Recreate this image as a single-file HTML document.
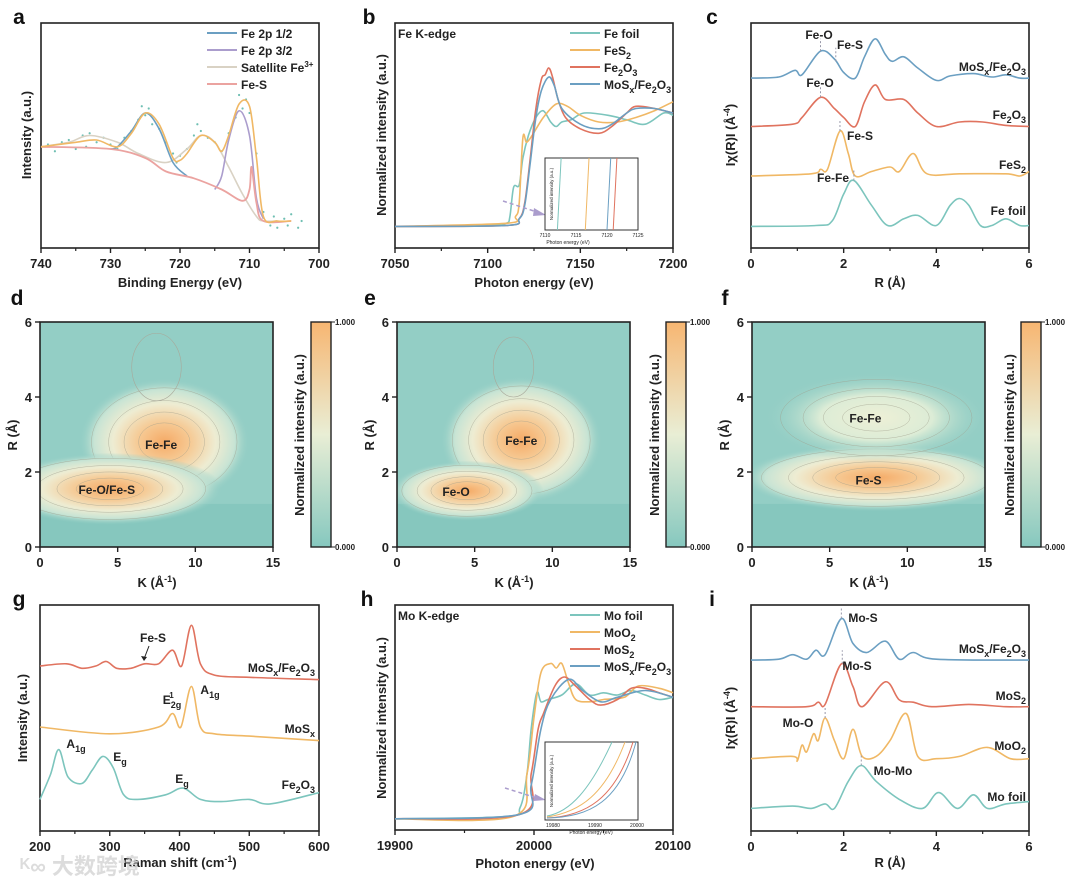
<!DOCTYPE html>
<html><head><meta charset="utf-8">
<style>
html,body{margin:0;padding:0;background:#fff;}
svg{display:block;font-family:"Liberation Sans","Noto Sans CJK SC",sans-serif;}
.t{font-weight:bold;font-size:13px;fill:#222;}
.lt{font-weight:bold;font-size:12px;fill:#222;}
.pl{font-weight:bold;font-size:21px;fill:#111;}
</style></head>
<body>
<svg id="fig" width="1080" height="883" viewBox="0 0 1080 883">
<defs>
<radialGradient id="hot"><stop offset="0" stop-color="#f5aa66"/><stop offset="0.3" stop-color="#f6c993"/><stop offset="0.6" stop-color="#eeecd2"/><stop offset="0.82" stop-color="#c8e4d4"/><stop offset="1" stop-color="#92cdc4" stop-opacity="0"/></radialGradient>
<radialGradient id="warm"><stop offset="0" stop-color="#eef0d6"/><stop offset="0.5" stop-color="#dcecd6"/><stop offset="1" stop-color="#92cdc4" stop-opacity="0"/></radialGradient>
<linearGradient id="cbar" x1="0" y1="1" x2="0" y2="0"><stop offset="0" stop-color="#86c8bf"/><stop offset="0.5" stop-color="#e9eed5"/><stop offset="1" stop-color="#f7b672"/></linearGradient>
</defs>
</svg>
<script>
// ---------- DATA ----------
const aEnvX=[740,735,732,729,727,725,723,721,720,719,717,715,714,713,711.5,710,709,708,706,704];
const aEnvY=[0.45,0.47,0.48,0.45,0.51,0.60,0.55,0.40,0.39,0.42,0.50,0.47,0.43,0.50,0.64,0.63,0.40,0.14,0.12,0.12];
const aBgX=[740,730,725,722,718,714,711,710,709.7,709,708,704];
const aBgY=[0.45,0.44,0.40,0.34,0.31,0.26,0.21,0.26,0.36,0.20,0.12,0.12];
const aP1X=[730,729,727,725,723,721,719];
const aP1Y=[0.44,0.45,0.52,0.60,0.53,0.38,0.32];
const aP3X=[715,714,713,711.5,710,709,708];
const aP3Y=[0.26,0.32,0.48,0.61,0.50,0.22,0.13];
const aSatX=[740,736,733,729,726,722,719,717,715,713,711,709,708,706];
const aSatY=[0.45,0.47,0.50,0.47,0.42,0.38,0.44,0.50,0.47,0.36,0.24,0.14,0.12,0.12];
const aDotX=[739,738,737,736,735,734,733.5,733,732,731,730,729,728,727,726,725.5,725,724.5,724,723,722,721,720.5,720,719,718,717.5,717,716,715,714,713,712,711.5,711,710.5,710,709,708,707,706.5,706,705,704.5,704,703,702.5];
const aDotY=[0.46,0.43,0.47,0.48,0.44,0.50,0.45,0.51,0.47,0.49,0.46,0.44,0.49,0.52,0.57,0.63,0.59,0.62,0.55,0.53,0.47,0.42,0.38,0.41,0.44,0.50,0.55,0.52,0.49,0.47,0.43,0.51,0.58,0.68,0.62,0.66,0.60,0.42,0.16,0.10,0.14,0.09,0.13,0.10,0.15,0.09,0.12];
const bFoilX=[7050,7100,7110,7112,7114,7117,7119,7122,7126,7130,7134,7137,7140,7145,7152,7165,7175,7185,7195,7200];
const bFoilY=[0.096,0.10,0.11,0.14,0.27,0.28,0.40,0.50,0.58,0.61,0.56,0.54,0.56,0.57,0.60,0.59,0.57,0.55,0.60,0.59];
const bFes2X=[7050,7110,7115,7117,7119,7121,7124,7130,7137,7143,7150,7160,7170,7180,7190,7200];
const bFes2Y=[0.096,0.11,0.14,0.20,0.49,0.47,0.50,0.58,0.64,0.63,0.59,0.56,0.56,0.58,0.61,0.65];
const bFe2o3X=[7050,7110,7117,7120,7123,7126,7129,7131,7133,7135,7138,7142,7150,7160,7167,7175,7180,7190,7200];
const bFe2o3Y=[0.096,0.10,0.13,0.20,0.40,0.62,0.75,0.77,0.80,0.76,0.66,0.58,0.53,0.51,0.54,0.60,0.63,0.62,0.60];
const bMixX=[7050,7110,7117,7120,7123,7126,7129,7133,7136,7140,7150,7160,7167,7175,7180,7190,7200];
const bMixY=[0.096,0.10,0.13,0.19,0.38,0.58,0.70,0.76,0.72,0.62,0.55,0.53,0.55,0.60,0.62,0.62,0.60];
const bInsetE=[7112,7116.5,7120,7121];
const cMixX=[0,0.6,0.95,1.1,1.5,1.8,2.0,2.25,2.45,2.68,2.9,3.05,3.3,3.6,4.0,4.3,4.8,5.2,5.5,5.8,6];
const cMixY=[0.755,0.76,0.79,0.77,0.875,0.84,0.78,0.755,0.85,0.93,0.86,0.83,0.85,0.80,0.745,0.765,0.775,0.76,0.77,0.755,0.755];
const cFe2o3X=[0,0.9,1.1,1.5,1.8,2.0,2.25,2.45,2.68,2.9,3.3,3.6,4.0,4.5,5.0,5.5,6];
const cFe2o3Y=[0.54,0.55,0.58,0.67,0.62,0.58,0.54,0.65,0.725,0.66,0.66,0.60,0.54,0.56,0.56,0.545,0.54];
const cFes2X=[0,1.3,1.5,1.65,1.92,2.1,2.25,2.6,3.0,3.2,3.5,3.8,4.5,5.5,5.8,6];
const cFes2Y=[0.32,0.33,0.35,0.35,0.52,0.42,0.32,0.34,0.36,0.34,0.42,0.33,0.33,0.33,0.32,0.34];
const cFoilX=[0,1.4,1.75,2.0,2.22,2.6,2.95,3.3,3.6,4.0,4.3,4.5,4.7,4.95,5.2,5.5,5.8,6];
const cFoilY=[0.096,0.10,0.12,0.24,0.30,0.19,0.10,0.13,0.145,0.10,0.19,0.22,0.19,0.10,0.10,0.13,0.10,0.10];
const dK=[8,4.5,7.5], dR=[2.8,1.55,4.8], dRk=[3.8,5.0,1.1], dRr=[0.85,0.48,0.45], dLev=[1,1,2];
const eK=[8,4.5,7.5], eR=[2.85,1.5,4.8], eRk=[3.6,3.4,0.9], eRr=[0.85,0.4,0.4], eLev=[1,1,2];
const fK=[8,8], fR=[1.85,3.45], fRk=[6.0,5.0], fRr=[0.45,0.6], fLev=[1,0];
const gMixX=[200,238,260,280,295,310,330,350,370,390,403,417,430,450,500,600];
const gMixY=[0.73,0.74,0.72,0.73,0.75,0.72,0.72,0.74,0.74,0.80,0.73,0.91,0.74,0.69,0.68,0.67];
const gMosX=[200,300,370,390,402,417,430,450,500,600];
const gMosY=[0.46,0.43,0.46,0.52,0.46,0.64,0.46,0.43,0.42,0.40];
const gFeX=[200,215,227,240,260,275,290,305,320,340,380,405,430,460,500,530,600];
const gFeY=[0.14,0.25,0.36,0.24,0.21,0.27,0.33,0.28,0.16,0.14,0.16,0.19,0.14,0.13,0.14,0.12,0.17];
const hFoilX=[19900,19980,19990,19995,19998,20002,20005,20010,20020,20030,20040,20050,20060,20070,20080,20090,20100];
const hFoilY=[0.05,0.06,0.10,0.25,0.45,0.61,0.57,0.58,0.60,0.65,0.60,0.61,0.60,0.62,0.60,0.58,0.59];
const hMoo2X=[19900,19985,19995,20000,20005,20012,20016,20020,20025,20030,20040,20050,20065,20075,20090,20100];
const hMoo2Y=[0.05,0.06,0.25,0.50,0.70,0.74,0.72,0.74,0.65,0.58,0.57,0.58,0.59,0.64,0.63,0.61];
const hMos2X=[19900,19990,19998,20003,20007,20015,20022,20030,20040,20048,20060,20070,20080,20090,20100];
const hMos2Y=[0.05,0.07,0.25,0.45,0.52,0.64,0.68,0.64,0.58,0.555,0.58,0.63,0.63,0.61,0.59];
const hMixX=[19900,19990,19998,20005,20012,20025,20035,20048,20060,20080,20100];
const hMixY=[0.05,0.07,0.20,0.45,0.58,0.67,0.62,0.57,0.59,0.62,0.59];
const iMixX=[0,0.6,0.9,1.2,1.4,1.6,1.95,2.2,2.5,2.9,3.2,3.5,4,6];
const iMixY=[0.756,0.76,0.78,0.76,0.80,0.78,0.94,0.83,0.79,0.84,0.76,0.79,0.76,0.756];
const iMos2X=[0,1.2,1.45,1.6,1.95,2.2,2.4,2.9,3.2,3.5,3.9,4.7,5.5,6];
const iMos2Y=[0.55,0.55,0.57,0.56,0.74,0.64,0.55,0.66,0.58,0.57,0.55,0.56,0.55,0.55];
const iMoo2X=[0,0.9,1.0,1.1,1.2,1.35,1.45,1.6,1.8,2.0,2.2,2.4,2.7,3.0,3.35,3.6,4.0,4.5,5.1,5.6,6];
const iMoo2Y=[0.32,0.33,0.31,0.38,0.35,0.43,0.40,0.50,0.40,0.32,0.45,0.33,0.33,0.40,0.52,0.33,0.32,0.33,0.37,0.32,0.32];
const iFoilX=[0,0.9,1.3,1.6,1.8,2.1,2.38,2.7,3.2,3.7,4.05,4.45,4.8,5.1,5.5,6];
const iFoilY=[0.10,0.11,0.10,0.12,0.10,0.22,0.29,0.22,0.14,0.10,0.17,0.10,0.16,0.10,0.12,0.13];

// ---------- HELPERS ----------
const NS='http://www.w3.org/2000/svg';
const fig=document.getElementById('fig');
function el(tag,attrs,parent){const e=document.createElementNS(NS,tag);for(const k in attrs)e.setAttribute(k,attrs[k]);(parent||fig).appendChild(e);return e;}
function txt(x,y,s,cls,parent,anchor,rot){const e=el('text',{x:x,y:y,class:cls||'t','text-anchor':anchor||'middle'},parent);if(rot)e.setAttribute('transform','rotate(-90 '+x+' '+y+')');e.innerHTML=s;return e;}
function axes(px,py,w,h,x0,x1,y0,y1){return {sx:v=>px+(v-x0)/(x1-x0)*w,sy:v=>py+h-(v-y0)/(y1-y0)*h,px,py,w,h};}
function smooth(xs,ys,A){const p=xs.map((x,i)=>[A.sx(x),A.sy(ys[i])]);let d='M'+p[0][0].toFixed(1)+','+p[0][1].toFixed(1);
 for(let i=0;i<p.length-1;i++){const p0=p[i-1]||p[i],p1=p[i],p2=p[i+1],p3=p[i+2]||p2;
 const c1=[p1[0]+(p2[0]-p0[0])/6,p1[1]+(p2[1]-p0[1])/6],c2=[p2[0]-(p3[0]-p1[0])/6,p2[1]-(p3[1]-p1[1])/6];
 d+='C'+c1[0].toFixed(1)+','+c1[1].toFixed(1)+' '+c2[0].toFixed(1)+','+c2[1].toFixed(1)+' '+p2[0].toFixed(1)+','+p2[1].toFixed(1);}return d;}
function line(g,xs,ys,A,color,w){return el('path',{d:smooth(xs,ys,A),fill:'none',stroke:color,'stroke-width':w||1.6,'stroke-linejoin':'round'},g);}
function frame(g,A,ticks,minor,labels){
 el('rect',{x:A.px,y:A.py,width:A.w,height:A.h,fill:'none',stroke:'#222','stroke-width':1.6},g);
 const b=A.py+A.h;
 ticks.forEach((t,i)=>{el('line',{x1:A.sx(t),y1:b,x2:A.sx(t),y2:b+5,stroke:'#222','stroke-width':1.4},g);txt(A.sx(t),b+20,labels[i],'t',g);});
 minor.forEach(t=>el('line',{x1:A.sx(t),y1:b,x2:A.sx(t),y2:b+3,stroke:'#222','stroke-width':1.2},g));
}
function legend(g,x,y,items){items.forEach((it,i)=>{const yy=y+i*17;el('line',{x1:x,y1:yy,x2:x+30,y2:yy,stroke:it[0],'stroke-width':2},g);txt(x+34,yy+5,it[1],'lt',g,'start');});}
const C={teal:'#7cc5bd',orange:'#f0b865',red:'#e0735f',blue:'#6b9fc2',purple:'#ab9dcd',beige:'#d9d2c4',pink:'#eba3a0',dot:'#6fbfb3'};

// ---------- PANEL A ----------
let g=el('g',{});


let A=axes(41,23,278,225,740,700,0,1);
txt(19,24,'a','pl',g);
frame(g,A,[740,730,720,710,700],[735,725,715,705],['740','730','720','710','700']);
txt(180,287,'Binding Energy (eV)','t',g);
txt(31,135,'Intensity (a.u.)','t',g,'middle',true);
aDotX.forEach((x,i)=>{const c=el('circle',{cx:A.sx(x),cy:A.sy(aDotY[i]),r:1.1,fill:C.dot},g);
 
 });
line(g,aSatX,aSatY,A,C.beige,1.6);
line(g,aP1X,aP1Y,A,C.blue,1.6);
line(g,aP3X,aP3Y,A,C.purple,1.6);
line(g,aBgX,aBgY,A,C.pink,1.8);
line(g,aEnvX,aEnvY,A,C.orange,1.6);
let lg=el('g',{},g);


legend(lg,207,33,[[C.blue,'Fe 2p 1/2'],[C.purple,'Fe 2p 3/2'],[C.beige,'Satellite Fe<tspan dy="-5" font-size="8">3+</tspan>'],[C.pink,'Fe-S']]);

// ---------- PANEL B ----------
g=el('g',{});


A=axes(395,23,278,225,7050,7200,0,1);
txt(369,24,'b','pl',g);
frame(g,A,[7050,7100,7150,7200],[7075,7125,7175],['7050','7100','7150','7200']);
txt(534,287,'Photon energy (eV)','t',g);
txt(386,135,'Normalized intensity (a.u.)','t',g,'middle',true);
txt(398,38,'Fe K-edge','lt',g,'start');
line(g,bFoilX,bFoilY,A,C.teal);
line(g,bFes2X,bFes2Y,A,C.orange);
line(g,bFe2o3X,bFe2o3Y,A,C.red);
line(g,bMixX,bMixY,A,C.blue);
lg=el('g',{},g);


legend(lg,570,33,[[C.teal,'Fe foil'],[C.orange,'FeS<tspan dy="4" font-size="9">2</tspan>'],[C.red,'Fe<tspan dy="4" font-size="9">2</tspan><tspan dy="-4">O</tspan><tspan dy="4" font-size="9">3</tspan>'],[C.blue,'MoS<tspan dy="4" font-size="9">x</tspan><tspan dy="-4">/Fe</tspan><tspan dy="4" font-size="9">2</tspan><tspan dy="-4">O</tspan><tspan dy="4" font-size="9">3</tspan>']]);
el('path',{d:'M503,201 L540,213',stroke:C.purple,'stroke-width':1.5,'stroke-dasharray':'4,3',fill:'none'},g);
el('path',{d:'M534,208 L546,215 L533,216 Z',fill:C.purple},g);
let ins=el('g',{},g);


let IA=axes(545,158,93,72,7110,7125,0,1);
el('rect',{x:545,y:158,width:93,height:72,fill:'#fff',stroke:'#333','stroke-width':1},ins);
bInsetE.forEach((e,i)=>{el('line',{x1:IA.sx(e),y1:230,x2:IA.sx(e+0.6),y2:158,stroke:[C.teal,C.orange,C.blue,C.red][i],'stroke-width':1},ins);});
[7110,7115,7120,7125].forEach(t=>{const e=txt(IA.sx(t),237,String(t),'t',ins);e.setAttribute('style','font-size:5px;font-weight:normal');});
let e1=txt(568,244,'Photon energy (eV)','t',ins);e1.setAttribute('style','font-size:5px;font-weight:normal');
e1=txt(553,194,'Normalized intensity (a.u.)','t',ins,'middle',true);e1.setAttribute('style','font-size:4.5px;font-weight:normal');

// ---------- PANEL C ----------
g=el('g',{});


A=axes(751,23,278,225,0,6,0,1);
txt(712,24,'c','pl',g);
frame(g,A,[0,2,4,6],[1,3,5],['0','2','4','6']);
txt(890,287,'R (Å)','t',g);
txt(735,135,'Iχ(R)I (Å<tspan dy="-5" font-size="9">-4</tspan><tspan dy="5">)</tspan>','t',g,'middle',true);
line(g,cMixX,cMixY,A,C.blue);
line(g,cFe2o3X,cFe2o3Y,A,C.red);
line(g,cFes2X,cFes2Y,A,C.orange);
line(g,cFoilX,cFoilY,A,C.teal);
[[1.5,0.875,0.93],[1.83,0.83,0.89],[1.5,0.67,0.72],[1.92,0.52,0.57],[2.22,0.30,0.35]].forEach(p=>el('line',{x1:A.sx(p[0]),y1:A.sy(p[1]),x2:A.sx(p[0]),y2:A.sy(p[2]),stroke:'#99a','stroke-width':1,'stroke-dasharray':'2,2'},g));
txt(1026,71,'MoS<tspan dy="4" font-size="9">x</tspan><tspan dy="-4">/Fe</tspan><tspan dy="4" font-size="9">2</tspan><tspan dy="-4">O</tspan><tspan dy="4" font-size="9">3</tspan>','lt',g,'end');
txt(1026,119,'Fe<tspan dy="4" font-size="9">2</tspan><tspan dy="-4">O</tspan><tspan dy="4" font-size="9">3</tspan>','lt',g,'end');
txt(1026,169,'FeS<tspan dy="4" font-size="9">2</tspan>','lt',g,'end');
txt(1026,215,'Fe foil','lt',g,'end');
txt(819,39,'Fe-O','lt',g);txt(850,49,'Fe-S','lt',g);txt(820,87,'Fe-O','lt',g);txt(860,140,'Fe-S','lt',g);txt(833,182,'Fe-Fe','lt',g);

// ---------- PANELS D,E,F ----------
function wavelet(name,letter,lx,px,cbx,Ks,Rs,Rk,Rr,Lv,labels){
 const gg=el('g',{});
 
 
 const W=axes(px,322,233,225,0,15,0,6);
 txt(lx,305,letter,'pl',gg);
 const cp=el('clipPath',{id:'cp'+letter},gg);el('rect',{x:px,y:322,width:233,height:225},cp);
 const inner=el('g',{'clip-path':'url(#cp'+letter+')'},gg);
 el('rect',{x:px,y:322,width:233,height:225,fill:'#93cec5'},inner);
 el('rect',{x:px,y:W.sy(1.15),width:233,height:W.sy(0)-W.sy(1.15),fill:'#86c7be'},inner);
 Ks.forEach((k,i)=>{const cx=W.sx(k),cy=W.sy(Rs[i]),rx=Rk[i]/15*233*1.45,ry=Rr[i]/6*225*2.0;
  if(Lv[i]===2){el('ellipse',{cx:cx,cy:cy,rx:rx,ry:ry,fill:'none',stroke:'#a8a89a','stroke-width':0.6},inner);return;}
  const b=el('ellipse',{cx:cx,cy:cy,rx:rx,ry:ry,fill:Lv[i]?'url(#hot)':'url(#warm)'},inner);
  
  
  [0.85,0.65,0.47,0.3].forEach(s=>el('ellipse',{cx:cx,cy:cy,rx:rx*s,ry:ry*s,fill:'none',stroke:'#a09e8c','stroke-width':0.5,'stroke-opacity':0.7},inner));});
 el('rect',{x:px,y:322,width:233,height:225,fill:'none',stroke:'#222','stroke-width':1.6},gg);
 [0,5,10,15].forEach(t=>{el('line',{x1:W.sx(t),y1:547,x2:W.sx(t),y2:552,stroke:'#222','stroke-width':1.4},gg);txt(W.sx(t),567,String(t),'t',gg);});
 [0,2,4,6].forEach(t=>{el('line',{x1:px,y1:W.sy(t),x2:px-5,y2:W.sy(t),stroke:'#222','stroke-width':1.4},gg);txt(px-8,W.sy(t)+5,String(t),'t',gg,'end');});
 txt(px+117,587,'K (Å<tspan dy="-5" font-size="9">-1</tspan><tspan dy="5">)</tspan>','t',gg);
 txt(px-23,435,'R (Å)','t',gg,'middle',true);
 labels.forEach(l=>txt(W.sx(l[0]),W.sy(l[1])+5,l[2],'lt',gg));
 const cb=el('rect',{x:cbx,y:322,width:20,height:225,fill:'url(#cbar)',stroke:'#222','stroke-width':1.4},gg);
 
 
 txt(cbx-7,435,'Normalized intensity (a.u.)','t',gg,'middle',true);
 el('line',{x1:cbx+20,y1:322,x2:cbx+24,y2:322,stroke:'#222'},gg);el('line',{x1:cbx+20,y1:547,x2:cbx+24,y2:547,stroke:'#222'},gg);
 let t1=txt(cbx+24,325,'1.000','t',gg,'start');t1.setAttribute('style','font-size:8px');
 t1=txt(cbx+24,550,'0.000','t',gg,'start');t1.setAttribute('style','font-size:8px');
}
wavelet('panel-d-wavelet','d',17,40,311,dK,dR,dRk,dRr,dLev,[[7.8,2.75,'Fe-Fe'],[4.3,1.55,'Fe-O/Fe-S']]);
wavelet('panel-e-wavelet','e',370,397,666,eK,eR,eRk,eRr,eLev,[[8,2.85,'Fe-Fe'],[3.8,1.5,'Fe-O']]);
wavelet('panel-f-wavelet','f',725,752,1021,fK,fR,fRk,fRr,fLev,[[7.3,3.45,'Fe-Fe'],[7.5,1.8,'Fe-S']]);

// ---------- PANEL G ----------
g=el('g',{});


A=axes(40,605,279,226,200,600,0,1);
txt(19,606,'g','pl',g);
frame(g,A,[200,300,400,500,600],[250,350,450,550],['200','300','400','500','600']);
txt(180,867,'Raman shift (cm<tspan dy="-5" font-size="9">-1</tspan><tspan dy="5">)</tspan>','t',g);
txt(27,718,'Intensity (a.u.)','t',g,'middle',true);
line(g,gMixX,gMixY,A,C.red);
line(g,gMosX,gMosY,A,C.orange);
line(g,gFeX,gFeY,A,C.teal);
txt(315,672,'MoS<tspan dy="4" font-size="9">x</tspan><tspan dy="-4">/Fe</tspan><tspan dy="4" font-size="9">2</tspan><tspan dy="-4">O</tspan><tspan dy="4" font-size="9">3</tspan>','lt',g,'end');
txt(315,733,'MoS<tspan dy="4" font-size="9">x</tspan>','lt',g,'end');
txt(315,789,'Fe<tspan dy="4" font-size="9">2</tspan><tspan dy="-4">O</tspan><tspan dy="4" font-size="9">3</tspan>','lt',g,'end');
txt(153,642,'Fe-S','lt',g);
el('line',{x1:149,y1:646,x2:144,y2:659,stroke:'#222','stroke-width':1},g);
el('path',{d:'M141,656 L144,661 L147,657 Z',fill:'#222'},g);
txt(172,704,'E<tspan dy="4" font-size="9">2g</tspan><tspan dx="-12" dy="-10" font-size="8">1</tspan>','lt',g);
txt(210,694,'A<tspan dy="4" font-size="9">1g</tspan>','lt',g);
txt(76,748,'A<tspan dy="4" font-size="9">1g</tspan>','lt',g);
txt(120,761,'E<tspan dy="4" font-size="9">g</tspan>','lt',g);
txt(182,783,'E<tspan dy="4" font-size="9">g</tspan>','lt',g);
let wm=txt(20,874,'ᴷ∞ 大数跨境','t',g,'start');
wm.setAttribute('style','font-size:22px;fill:#d4d4d4;opacity:0.8');



// ---------- PANEL H ----------
g=el('g',{});


A=axes(395,605,278,225,19900,20100,0,1);
txt(367,606,'h','pl',g);
frame(g,A,[19900,20000,20100],[19950,20050],['19900','20000','20100']);
txt(535,868,'Photon energy (eV)','t',g);
txt(386,718,'Normalized intensity (a.u.)','t',g,'middle',true);
txt(398,620,'Mo K-edge','lt',g,'start');
line(g,hFoilX,hFoilY,A,C.teal);
line(g,hMoo2X,hMoo2Y,A,C.orange);
line(g,hMos2X,hMos2Y,A,C.red);
line(g,hMixX,hMixY,A,C.blue);
lg=el('g',{},g);


legend(lg,570,615,[[C.teal,'Mo foil'],[C.orange,'MoO<tspan dy="4" font-size="9">2</tspan>'],[C.red,'MoS<tspan dy="4" font-size="9">2</tspan>'],[C.blue,'MoS<tspan dy="4" font-size="9">x</tspan><tspan dy="-4">/Fe</tspan><tspan dy="4" font-size="9">2</tspan><tspan dy="-4">O</tspan><tspan dy="4" font-size="9">3</tspan>']]);
el('path',{d:'M505,788 L540,799',stroke:C.purple,'stroke-width':1.5,'stroke-dasharray':'4,3',fill:'none'},g);
el('path',{d:'M535,794 L546,800 L533,801 Z',fill:C.purple},g);
ins=el('g',{},g);


el('rect',{x:545,y:742,width:93,height:78,fill:'#fff',stroke:'#333','stroke-width':1},ins);
el('path',{d:'M547,816 C570,812 590,790 612,742',stroke:C.teal,fill:'none','stroke-width':1},ins);
el('path',{d:'M547,817 C580,812 605,795 625,742',stroke:C.orange,fill:'none','stroke-width':1},ins);
el('path',{d:'M547,818 C585,816 615,800 633,742',stroke:C.red,fill:'none','stroke-width':1},ins);
el('path',{d:'M547,818 C590,817 620,802 636,742',stroke:C.blue,fill:'none','stroke-width':1},ins);
['19980','19990','20000'].forEach((s,i)=>{const e=txt(553+i*42,827,s,'t',ins);e.setAttribute('style','font-size:5px;font-weight:normal');});
e1=txt(591,834,'Photon energy (eV)','t',ins);e1.setAttribute('style','font-size:5px;font-weight:normal');
e1=txt(553,781,'Normalized intensity (a.u.)','t',ins,'middle',true);e1.setAttribute('style','font-size:4.5px;font-weight:normal');

// ---------- PANEL I ----------
g=el('g',{});


A=axes(751,605,278,226,0,6,0,1);
txt(712,606,'i','pl',g);
frame(g,A,[0,2,4,6],[1,3,5],['0','2','4','6']);
txt(890,867,'R (Å)','t',g);
txt(735,718,'Iχ(R)I (Å<tspan dy="-5" font-size="9">-4</tspan><tspan dy="5">)</tspan>','t',g,'middle',true);
line(g,iMixX,iMixY,A,C.blue);
line(g,iMos2X,iMos2Y,A,C.red);
line(g,iMoo2X,iMoo2Y,A,C.orange);
line(g,iFoilX,iFoilY,A,C.teal);
[[1.95,0.94,0.99],[1.97,0.74,0.80],[1.6,0.50,0.55],[2.38,0.29,0.34]].forEach(p=>el('line',{x1:A.sx(p[0]),y1:A.sy(p[1]),x2:A.sx(p[0]),y2:A.sy(p[2]),stroke:'#99a','stroke-width':1,'stroke-dasharray':'2,2'},g));
txt(1026,653,'MoS<tspan dy="4" font-size="9">x</tspan><tspan dy="-4">/Fe</tspan><tspan dy="4" font-size="9">2</tspan><tspan dy="-4">O</tspan><tspan dy="4" font-size="9">3</tspan>','lt',g,'end');
txt(1026,700,'MoS<tspan dy="4" font-size="9">2</tspan>','lt',g,'end');
txt(1026,750,'MoO<tspan dy="4" font-size="9">2</tspan>','lt',g,'end');
txt(1026,801,'Mo foil','lt',g,'end');
txt(863,622,'Mo-S','lt',g);txt(857,670,'Mo-S','lt',g);txt(798,727,'Mo-O','lt',g);txt(893,775,'Mo-Mo','lt',g);
</script>
</body></html>
